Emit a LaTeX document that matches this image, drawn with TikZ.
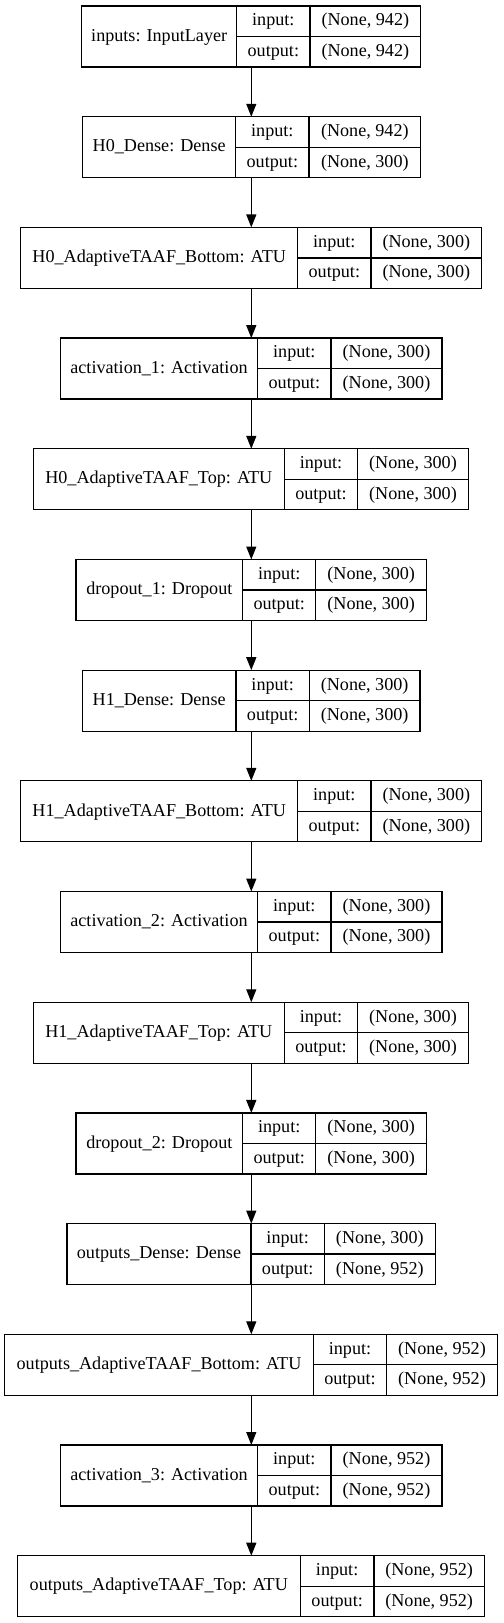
\documentclass[tikz,border=0pt]{standalone}
\usepackage{fontspec}
\setmainfont{Liberation Serif}
\usetikzlibrary{arrows.meta}
\tikzset{
  cell/.style={draw=black, line width=0.95pt, inner sep=0pt, outer sep=0pt,
    text height=10pt, text depth=3pt, font=\fontsize{13.6}{16}\selectfont},
  arr/.style={draw=black, line width=0.95pt, -{Triangle[length=9.7pt,width=7.5pt]}}
}
\newcommand{\klayer}[9]{%
  \pgfmathsetmacro\kT{6+110.69*#2}%
  \pgfmathsetmacro\kM{\kT+30.5}%
  \node[cell, anchor=north west, minimum width={(#4-#3)*0.75pt}, minimum height=45.75pt] (#1) at (#3,\kT) {#7};
  \node[cell, anchor=north west, minimum width={(#5-#4)*0.75pt}, minimum height=22.875pt] (#1-i) at (#4,\kT) {input:};
  \node[cell, anchor=north west, minimum width={(#5-#4)*0.75pt}, minimum height=22.875pt] (#1-o) at (#4,\kM) {output:};
  \node[cell, anchor=north west, minimum width={(#6-#5)*0.75pt}, minimum height=22.875pt] (#1-iv) at (#5,\kT) {#8};
  \node[cell, anchor=north west, minimum width={(#6-#5)*0.75pt}, minimum height=22.875pt] (#1-ov) at (#5,\kM) {#9};
}
\begin{document}
\begin{tikzpicture}[x=0.75pt, y=-0.75pt]
\useasboundingbox (0,0) rectangle (503,1623);
\coordinate (axis) at (251.3,0);
\klayer{n1}{0}{81.7}{236.7}{310}{420.7}{inputs: InputLayer}{(None, 942)}{(None, 942)}
\klayer{n2}{1}{82.7}{235.7}{309}{420.7}{H0\_Dense: Dense}{(None, 942)}{(None, 300)}
\klayer{n3}{2}{20.7}{297.7}{371}{481.7}{H0\_AdaptiveTAAF\_Bottom: ATU}{(None, 300)}{(None, 300)}
\klayer{n4}{3}{60.3}{257.7}{331}{442}{activation\_1: Activation}{(None, 300)}{(None, 300)}
\klayer{n5}{4}{33.3}{284.3}{357.7}{468.3}{H0\_AdaptiveTAAF\_Top: ATU}{(None, 300)}{(None, 300)}
\klayer{n6}{5}{76}{242.7}{315.7}{426.7}{dropout\_1: Dropout}{(None, 300)}{(None, 300)}
\klayer{n7}{6}{82.3}{236}{309.3}{420}{H1\_Dense: Dense}{(None, 300)}{(None, 300)}
\klayer{n8}{7}{20.7}{297.7}{371}{481.7}{H1\_AdaptiveTAAF\_Bottom: ATU}{(None, 300)}{(None, 300)}
\klayer{n9}{8}{60.3}{257.7}{331}{442}{activation\_2: Activation}{(None, 300)}{(None, 300)}
\klayer{n10}{9}{33.3}{284.3}{357.7}{468.3}{H1\_AdaptiveTAAF\_Top: ATU}{(None, 300)}{(None, 300)}
\klayer{n11}{10}{76}{242.7}{315.7}{426.7}{dropout\_2: Dropout}{(None, 300)}{(None, 300)}
\klayer{n12}{11}{67}{251}{324.3}{435.3}{outputs\_Dense: Dense}{(None, 300)}{(None, 952)}
\klayer{n13}{12}{4.7}{313.3}{386.7}{497.3}{outputs\_AdaptiveTAAF\_Bottom: ATU}{(None, 952)}{(None, 952)}
\klayer{n14}{13}{60.3}{257.7}{331}{442}{activation\_3: Activation}{(None, 952)}{(None, 952)}
\klayer{n15}{14}{17.3}{300.3}{374}{484.3}{outputs\_AdaptiveTAAF\_Top: ATU}{(None, 952)}{(None, 952)}
\foreach \a/\b in {n1/n2,n2/n3,n3/n4,n4/n5,n5/n6,n6/n7,n7/n8,n8/n9,n9/n10,n10/n11,n11/n12,n12/n13,n13/n14,n14/n15}
  \draw[arr] (\a.south -| axis) -- (\b.north -| axis);
\end{tikzpicture}
\end{document}
